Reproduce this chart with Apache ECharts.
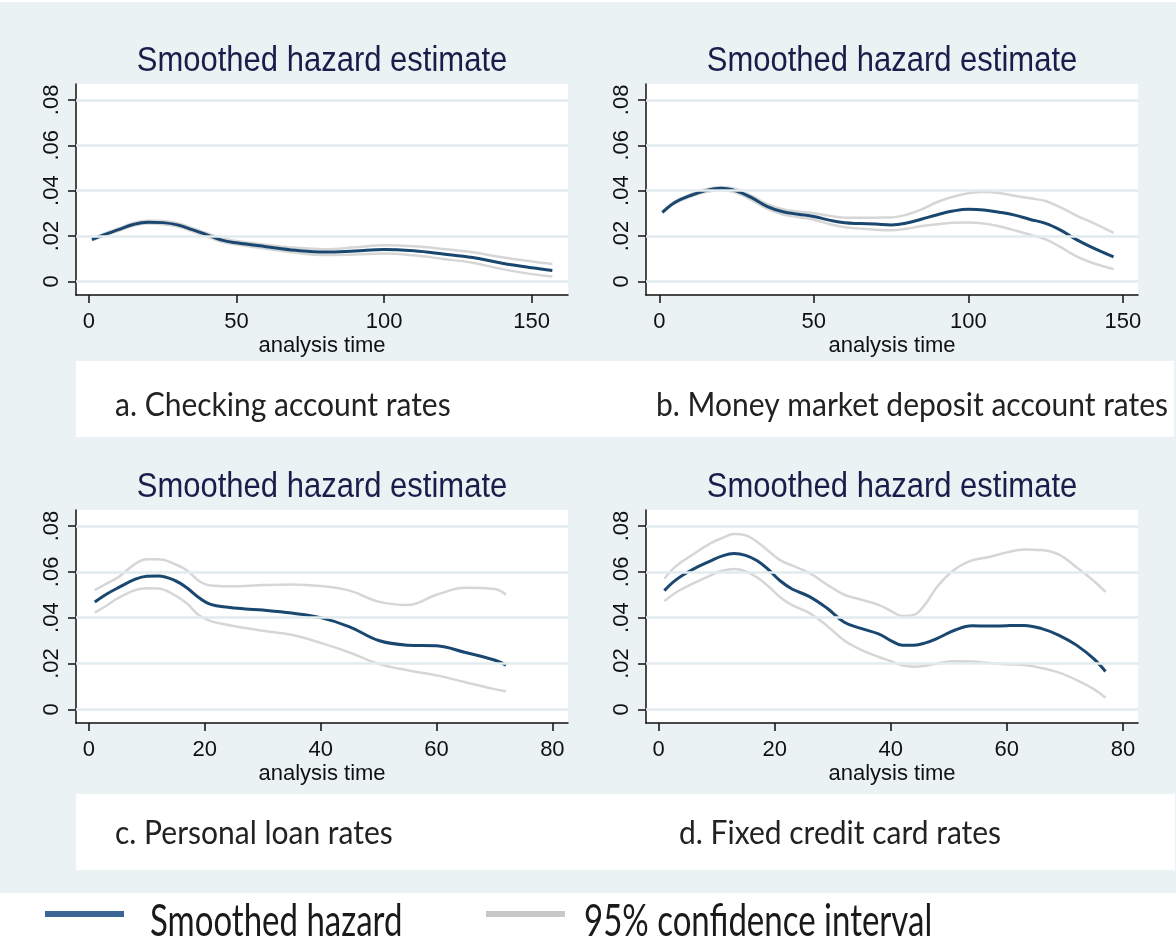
<!DOCTYPE html>
<html>
<head>
<meta charset="utf-8">
<script src="https://cdn.jsdelivr.net/npm/echarts@6/dist/echarts.min.js"></script>
<style>
html,body{margin:0;padding:0;background:#fff}
#main{width:1176px;height:943px}
</style>
</head>
<body>
<div id="main"></div>
<script>
// y ticks shared by all four panels
var yTickValues = [0, 0.02, 0.04, 0.06, 0.08];
var yTickLabels = ['0', '.02', '.04', '.06', '.08'];

// a. checking account rates
var aTicks = [0, 50, 100, 150];
var aTime = [1, 5, 10, 15, 20, 25, 30, 35, 40, 45, 50, 60, 70, 80, 90, 100, 110, 120, 130, 140, 150, 157];
var aHazard = [.0184, .0205, .0228, .0251, .0261, .0259, .0249, .0228, .0205, .0182, .0170, .0153, .0137, .0129, .0134, .0141, .0135, .0121, .0105, .0080, .0060, .0048];
var aUpper = [.0187, .0209, .0233, .0257, .0267, .0266, .0256, .0235, .0212, .0190, .0178, .0162, .0148, .0142, .0150, .0159, .0155, .0143, .0128, .0106, .0088, .0077];
var aLower = [.0181, .0201, .0223, .0245, .0255, .0252, .0242, .0221, .0198, .0174, .0162, .0144, .0126, .0116, .0118, .0123, .0115, .0099, .0082, .0054, .0032, .0022];

// b. money market deposit account rates
var bTicks = [0, 50, 100, 150];
var bTime = [1, 5, 10, 15, 20, 25, 30, 35, 40, 45, 50, 55, 60, 65, 70, 75, 80, 85, 90, 95, 100, 105, 110, 115, 120, 125, 130, 135, 140, 147];
var bHazard = [.0304, .0348, .0378, .0400, .0410, .0398, .0368, .0330, .0307, .0296, .0286, .0270, .0258, .0255, .0253, .0249, .0257, .0275, .0294, .0310, .0318, .0315, .0305, .0292, .0273, .0256, .0225, .0184, .0150, .0108];
var bUpper = [.0306, .0352, .0383, .0406, .0416, .0406, .0377, .0340, .0318, .0308, .0300, .0289, .0281, .0280, .0281, .0282, .0294, .0318, .0350, .0373, .0388, .0394, .0390, .0377, .0366, .0354, .0325, .0290, .0260, .0214];
var bLower = [.0301, .0344, .0373, .0394, .0403, .0390, .0358, .0320, .0295, .0283, .0272, .0253, .0239, .0233, .0228, .0225, .0232, .0244, .0252, .0258, .0260, .0255, .0243, .0225, .0206, .0185, .0150, .0110, .0082, .0054];

// c. personal loan rates
var cTicks = [0, 20, 40, 60, 80];
var cTime = [1, 3, 5, 8, 10, 12, 15, 17, 19, 21, 24, 27, 30, 35, 40, 45, 50, 55, 60, 65, 70, 72];
var cHazard = [.0468, .0502, .0530, .0568, .0581, .0582, .0560, .0528, .0487, .0458, .0445, .0438, .0433, .0420, .0400, .0360, .0300, .0280, .0277, .0248, .0215, .0193];
var cUpper = [.0520, .0548, .0575, .0635, .0655, .0655, .0632, .0605, .0560, .0540, .0537, .0538, .0542, .0545, .0538, .0518, .0470, .0455, .0500, .0530, .0525, .0500];
var cLower = [.0422, .0452, .0485, .0520, .0528, .0527, .0495, .0460, .0410, .0385, .0368, .0355, .0343, .0325, .0290, .0248, .0198, .0170, .0148, .0118, .0088, .0079];

// d. fixed credit card rates
var dTicks = [0, 20, 40, 60, 80];
var dTime = [1, 3, 6, 9, 11, 13, 15, 17, 19, 21, 23, 26, 29, 32, 35, 38, 40, 42, 44, 46, 48, 51, 54, 57, 60, 63, 66, 69, 72, 75, 77];
var dHazard = [.0518, .0565, .0612, .0648, .0670, .0680, .0672, .0648, .0608, .0560, .0525, .0492, .0442, .0380, .0352, .0328, .0300, .0280, .0280, .0290, .0309, .0345, .0365, .0363, .0365, .0366, .0352, .0323, .0280, .0220, .0165];
var dUpper = [.0570, .0625, .0677, .0725, .0748, .0765, .0760, .0730, .0690, .0650, .0628, .0595, .0545, .0500, .0478, .0455, .0430, .0407, .0412, .0460, .0535, .0610, .0650, .0665, .0685, .0698, .0695, .0675, .0620, .0560, .0512];
var dLower = [.0472, .0510, .0550, .0585, .0605, .0612, .0602, .0575, .0535, .0488, .0455, .0420, .0365, .0300, .0258, .0228, .0210, .0192, .0186, .0190, .0200, .0210, .0208, .0202, .0196, .0193, .0180, .0160, .0128, .0088, .0050];

var panelTitle = 'Smoothed hazard estimate';
var xTitle = 'analysis time';
var captions = ['a. Checking account rates', 'b. Money market deposit account rates', 'c. Personal loan rates', 'd. Fixed credit card rates'];
var legendNames = ['Smoothed hazard', '95% confidence interval'];

var NAVY = '#1a476f';
var CI = '#d6d6d6';
var BG = '#eaf2f3';

var panels = [
  {time: aTime, hazard: aHazard, upper: aUpper, lower: aLower, ticks: aTicks, xmin: -4.4, xmax: 162.3, left: 76, top: 84, height: 211},
  {time: bTime, hazard: bHazard, upper: bUpper, lower: bLower, ticks: bTicks, xmin: -4.3, xmax: 154.9, left: 646, top: 84, height: 211},
  {time: cTime, hazard: cHazard, upper: cUpper, lower: cLower, ticks: cTicks, xmin: -2.24, xmax: 82.7, left: 76, top: 510, height: 213},
  {time: dTime, hazard: dHazard, upper: dUpper, lower: dLower, ticks: dTicks, xmin: -2.16, xmax: 82.6, left: 646, top: 510, height: 213}
];

function pairs(xs, ys) {
  return xs.map(function (x, i) { return [x, ys[i]]; });
}

var grids = [], xAxes = [], yAxes = [], series = [], graphics = [];

graphics.push({type: 'rect', z: -10, shape: {x: 0, y: 0, width: 1176, height: 2}, style: {fill: '#fff'}});
graphics.push({type: 'rect', z: -10, shape: {x: 0, y: 893, width: 1176, height: 50}, style: {fill: '#fff'}});
graphics.push({type: 'rect', z: -10, shape: {x: 76, y: 361, width: 1098, height: 76}, style: {fill: '#fff'}});
graphics.push({type: 'rect', z: -10, shape: {x: 76, y: 794, width: 1099, height: 76}, style: {fill: '#fff'}});

panels.forEach(function (p, i) {
  grids.push({left: p.left, top: p.top, width: 492, height: p.height, show: true, backgroundColor: '#fff', borderWidth: 0});
  xAxes.push({
    gridIndex: i, type: 'value', min: p.xmin, max: p.xmax,
    name: xTitle, nameLocation: 'middle', nameGap: 40,
    nameTextStyle: {fontFamily: 'Liberation Sans', fontSize: 22, color: '#111'},
    axisLine: {show: true, onZero: false, lineStyle: {color: '#111', width: 1.5}},
    axisTick: {show: true, length: 8, customValues: p.ticks, lineStyle: {color: '#111', width: 1.5}},
    axisLabel: {customValues: p.ticks, margin: 16, fontFamily: 'Liberation Sans', fontSize: 22, color: '#111'},
    splitLine: {show: false}
  });
  yAxes.push({
    gridIndex: i, type: 'value', min: -0.006, max: 0.087,
    axisLine: {show: true, onZero: false, lineStyle: {color: '#111', width: 1.5}},
    axisTick: {show: true, length: 8, customValues: yTickValues, lineStyle: {color: '#111', width: 1.5}},
    axisLabel: {
      customValues: yTickValues, rotate: 90, margin: 13,
      fontFamily: 'Liberation Sans', fontSize: 22, color: '#111',
      formatter: function (v) { return yTickLabels[Math.round(v * 50)]; }
    },
    splitLine: {show: false}
  });
  series.push({
    type: 'line', xAxisIndex: i, yAxisIndex: i, data: pairs(p.time, p.lower),
    smooth: 0.4, showSymbol: false, lineStyle: {color: CI, width: 2.5}, z: 2,
    markLine: {
      silent: true, symbol: 'none', label: {show: false},
      lineStyle: {color: '#e2ebee', width: 2.5, type: 'solid'},
      data: yTickValues.map(function (v) { return {yAxis: v}; })
    }
  });
  series.push({
    type: 'line', xAxisIndex: i, yAxisIndex: i, data: pairs(p.time, p.upper),
    smooth: 0.4, showSymbol: false, lineStyle: {color: CI, width: 2.5}, z: 3
  });
  series.push({
    type: 'line', xAxisIndex: i, yAxisIndex: i, data: pairs(p.time, p.hazard),
    smooth: 0.4, showSymbol: false, lineStyle: {color: NAVY, width: 3}, z: 4
  });
  // panel title, centred over the plot region
  graphics.push({
    type: 'text', x: p.left + 246, y: p.top - 23, scaleY: 1.12,
    style: {text: panelTitle, fill: '#1c1c4a', font: '31px "Liberation Sans"', align: 'center', verticalAlign: 'middle'}
  });
});

var capPos = [[115, 405], [656, 405], [115, 833], [679, 833]];
captions.forEach(function (c, i) {
  graphics.push({
    type: 'text', x: capPos[i][0], y: capPos[i][1], scaleY: 1.12,
    style: {text: c, fill: '#222', font: '30px Lato', align: 'left', verticalAlign: 'middle'}
  });
});

// legend along the bottom
graphics.push({type: 'line', shape: {x1: 45, y1: 914, x2: 124, y2: 914}, style: {stroke: '#3b6497', lineWidth: 6}});
graphics.push({type: 'line', shape: {x1: 486, y1: 914, x2: 565, y2: 914}, style: {stroke: '#c8c8c8', lineWidth: 6}});
graphics.push({
  type: 'text', x: 150, y: 922, scaleY: 1.35,
  style: {text: legendNames[0], fill: '#1a1a1a', font: '33px Lato', align: 'left', verticalAlign: 'middle'}
});
graphics.push({
  type: 'text', x: 584, y: 922, scaleY: 1.35,
  style: {text: legendNames[1], fill: '#1a1a1a', font: '33px Lato', align: 'left', verticalAlign: 'middle'}
});

var chart = echarts.init(document.getElementById('main'));
chart.setOption({
  animation: false,
  backgroundColor: BG,
  grid: grids,
  xAxis: xAxes,
  yAxis: yAxes,
  series: series,
  graphic: graphics
});
</script>
</body>
</html>
